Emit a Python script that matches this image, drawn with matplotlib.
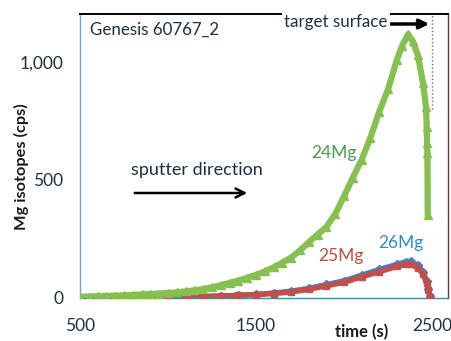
import matplotlib
matplotlib.use("Agg")
import matplotlib.pyplot as plt

# ---- data ----
t_24 = [500, 550, 600, 650, 700, 750, 800, 850, 900, 950, 1000, 1050, 1100, 1150,
        1200, 1250, 1300, 1350, 1400, 1450, 1500, 1550, 1600, 1650, 1700, 1750,
        1800, 1850, 1900, 1950, 2000, 2050, 2100, 2150, 2200, 2250, 2300, 2330,
        2364, 2390, 2420, 2449, 2466, 2470, 2472, 2474, 2476]
mg24 = [3, 4, 5, 6, 8, 9, 11, 13, 15, 17, 19, 22, 26, 30,
        36, 43, 52, 62, 72, 84, 96, 111, 128, 148, 170, 200,
        235, 268, 300, 355, 430, 510, 585, 680, 790, 885, 1010, 1070,
        1120, 1090, 1030, 912, 810, 725, 657, 614, 351]

t_iso = [500, 600, 700, 800, 900, 1000, 1100, 1200, 1300, 1400, 1500, 1600, 1700,
         1800, 1900, 2000, 2100, 2200, 2300, 2350, 2380, 2420, 2450, 2470, 2480, 2490]
mg25 = [0, 1, 1, 2, 2, 3, 3, 4, 6, 9, 12, 17, 24,
        35, 50, 65, 88, 110, 132, 142, 143, 125, 100, 60, 30, 2]
mg26 = [0, 1, 1, 2, 3, 3, 4, 5, 7, 10, 14, 20, 28,
        40, 56, 72, 96, 120, 142, 153, 155, 138, 110, 70, 35, 5]

x_ticks = [500, 1500, 2500]
y_ticks = [0, 500, 1000]
y_ticklabels = ["0", "500", "1,000"]

plt.rcParams['font.family'] = ['Lato', 'DejaVu Sans']

fig = plt.figure(figsize=(4.52, 3.41), dpi=100)
ax = fig.add_axes([80/452, 1-297.5/341, 368/452, (297.5-14)/341])

green = '#86c04f'
red = '#c0504d'
blue = '#3b82c8'

ax.plot(t_iso, mg26, color=blue, lw=3.5, marker='D', ms=4, zorder=2)
ax.plot(t_iso, mg25, color=red, lw=4, marker='s', ms=4, zorder=3)
ax.plot(t_24, mg24, color=green, lw=4.5, marker='^', ms=5.5, zorder=4)

ax.set_xlim(500, 2591)
ax.set_ylim(0, 1206)
ax.set_xticks(x_ticks)
ax.set_xticklabels([str(v) for v in x_ticks])
ax.set_yticks(y_ticks)
ax.set_yticklabels(y_ticklabels)
ax.tick_params(length=0, labelsize=12.5, colors='#1f3040')
ax.tick_params(axis='x', pad=15)
ax.tick_params(axis='y', pad=12)

for s, c, w in [('top', 'black', 1.4), ('right', '#8b2a20', 1.0),
                ('bottom', '#3b8ab8', 1.0), ('left', '#6fa8d0', 1.0)]:
    ax.spines[s].set_color(c)
    ax.spines[s].set_linewidth(w)

# target surface marker line
ax.axvline(2500, ymin=800/1206, ymax=1, color='#5070a0', lw=1, ls=':')

ax.text(0.027, 0.945, "Genesis 60767_2", transform=ax.transAxes, fontsize=12.2,
        color='#1f3040', va='center', ha='left')
ax.text(336/452, 1-22/341, "target surface", transform=fig.transFigure,
        fontsize=12.2, color='#1f3040', ha='center', va='center',
        bbox=dict(facecolor='white', edgecolor='none', pad=1.5), zorder=10)
ax.annotate("", xy=(432/452, 1-24/341), xytext=(387/452, 1-24/341),
            xycoords='figure fraction', textcoords='figure fraction',
            arrowprops=dict(arrowstyle='-|>', color='black', lw=2.5, mutation_scale=14))

ax.text(197/452, 1-170/341, "sputter direction", transform=fig.transFigure,
        fontsize=13, color='#1f3040', ha='center', va='center')
ax.annotate("", xy=(250/452, 1-193/341), xytext=(132/452, 1-193/341),
            xycoords='figure fraction', textcoords='figure fraction',
            arrowprops=dict(arrowstyle='->', color='black', lw=1.8, mutation_scale=16))

fig.text(334/452, 1-153/341, "24Mg", fontsize=12.5, color='#4a9a50', ha='center', va='center')
fig.text(341/452, 1-256/341, "25Mg", fontsize=12.5, color='#b8503f', ha='center', va='center')
fig.text(401/452, 1-243/341, "26Mg", fontsize=12.5, color='#2e8ad8', ha='center', va='center')

fig.text(362/452, 1-332/341, "time (s)", fontsize=12, fontweight='bold',
         color='#1a1a1a', ha='center', va='center')
fig.text(21/452, 1-167/341, "Mg isotopes (cps)", fontsize=11.8, fontweight='bold',
         color='#1a1a1a', ha='center', va='center', rotation=90)

fig.savefig("out.png", dpi=100, facecolor='white')
